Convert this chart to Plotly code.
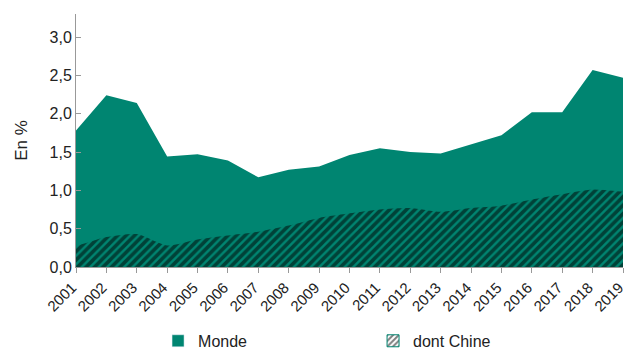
import plotly.graph_objects as go

years = list(range(2001, 2020))
monde = [1.78, 2.24, 2.14, 1.44, 1.47, 1.39, 1.17, 1.27, 1.31, 1.46, 1.55, 1.50, 1.48, 1.60, 1.72, 2.02, 2.02, 2.57, 2.47]
chine = [0.27, 0.39, 0.43, 0.28, 0.36, 0.41, 0.46, 0.54, 0.64, 0.70, 0.75, 0.77, 0.72, 0.77, 0.80, 0.88, 0.95, 1.01, 0.98]
ytick_vals = [0, 0.5, 1.0, 1.5, 2.0, 2.5, 3.0]
ytick_text = ["0,0", "0,5", "1,0", "1,5", "2,0", "2,5", "3,0"]

TEAL = "#008571"
FONT = "Liberation Sans, Arial, sans-serif"

fig = go.Figure()
fig.add_trace(go.Scatter(x=years, y=monde, fill="tozeroy", mode="lines",
                         line=dict(width=0, color=TEAL), fillcolor=TEAL,
                         showlegend=False, hoverinfo="skip"))
fig.add_trace(go.Scatter(x=years, y=chine, fill="tozeroy", mode="lines",
                         line=dict(width=0, color=TEAL, shape="spline", smoothing=0.6),
                         fillpattern=dict(shape="/", fgcolor="black", bgcolor=TEAL,
                                          size=6, solidity=0.6),
                         showlegend=False, hoverinfo="skip"))
# legend entries
fig.add_trace(go.Bar(x=[None], y=[None], name="Monde", marker=dict(color=TEAL)))
fig.add_trace(go.Bar(x=[None], y=[None], name="dont Chine",
                     marker=dict(color="white", line=dict(color=TEAL, width=1),
                                 pattern=dict(shape="/", fgcolor="black", bgcolor="white",
                                              size=5, solidity=0.5))))

fig.update_layout(
    width=627, height=349,
    margin=dict(l=76, r=4, t=14, b=82, autoexpand=False),
    paper_bgcolor="white", plot_bgcolor="white",
    font=dict(family=FONT, size=16, color="#222"),
    separators=", ",
    showlegend=True,
    legend=dict(orientation="h", x=0.15, xanchor="left", y=-0.292, yanchor="middle",
                entrywidth=170, entrywidthmode="pixels",
                font=dict(size=16), itemwidth=30),
    xaxis=dict(range=[2001, 2019], tickvals=years, ticktext=[str(y) for y in years],
               tickangle=-45, showgrid=False, zeroline=False, automargin=False,
               ticklabeloverflow="allow", ticklabelshift=-4,
               showline=True, linecolor="#999", linewidth=1,
               ticks="outside", ticklen=5, tickcolor="#999",
               tickfont=dict(size=15)),
    yaxis=dict(range=[0, 3.3], tickvals=ytick_vals, ticktext=ytick_text,
               showgrid=False, zeroline=False, showline=True, linecolor="#999",
               linewidth=1, ticks="inside", ticklen=5, tickcolor="#999", automargin=False,
               title=dict(text="En %", font=dict(size=17), standoff=17),
               tickfont=dict(size=16)),
    barmode="overlay",
)

fig.write_html("out.html")
